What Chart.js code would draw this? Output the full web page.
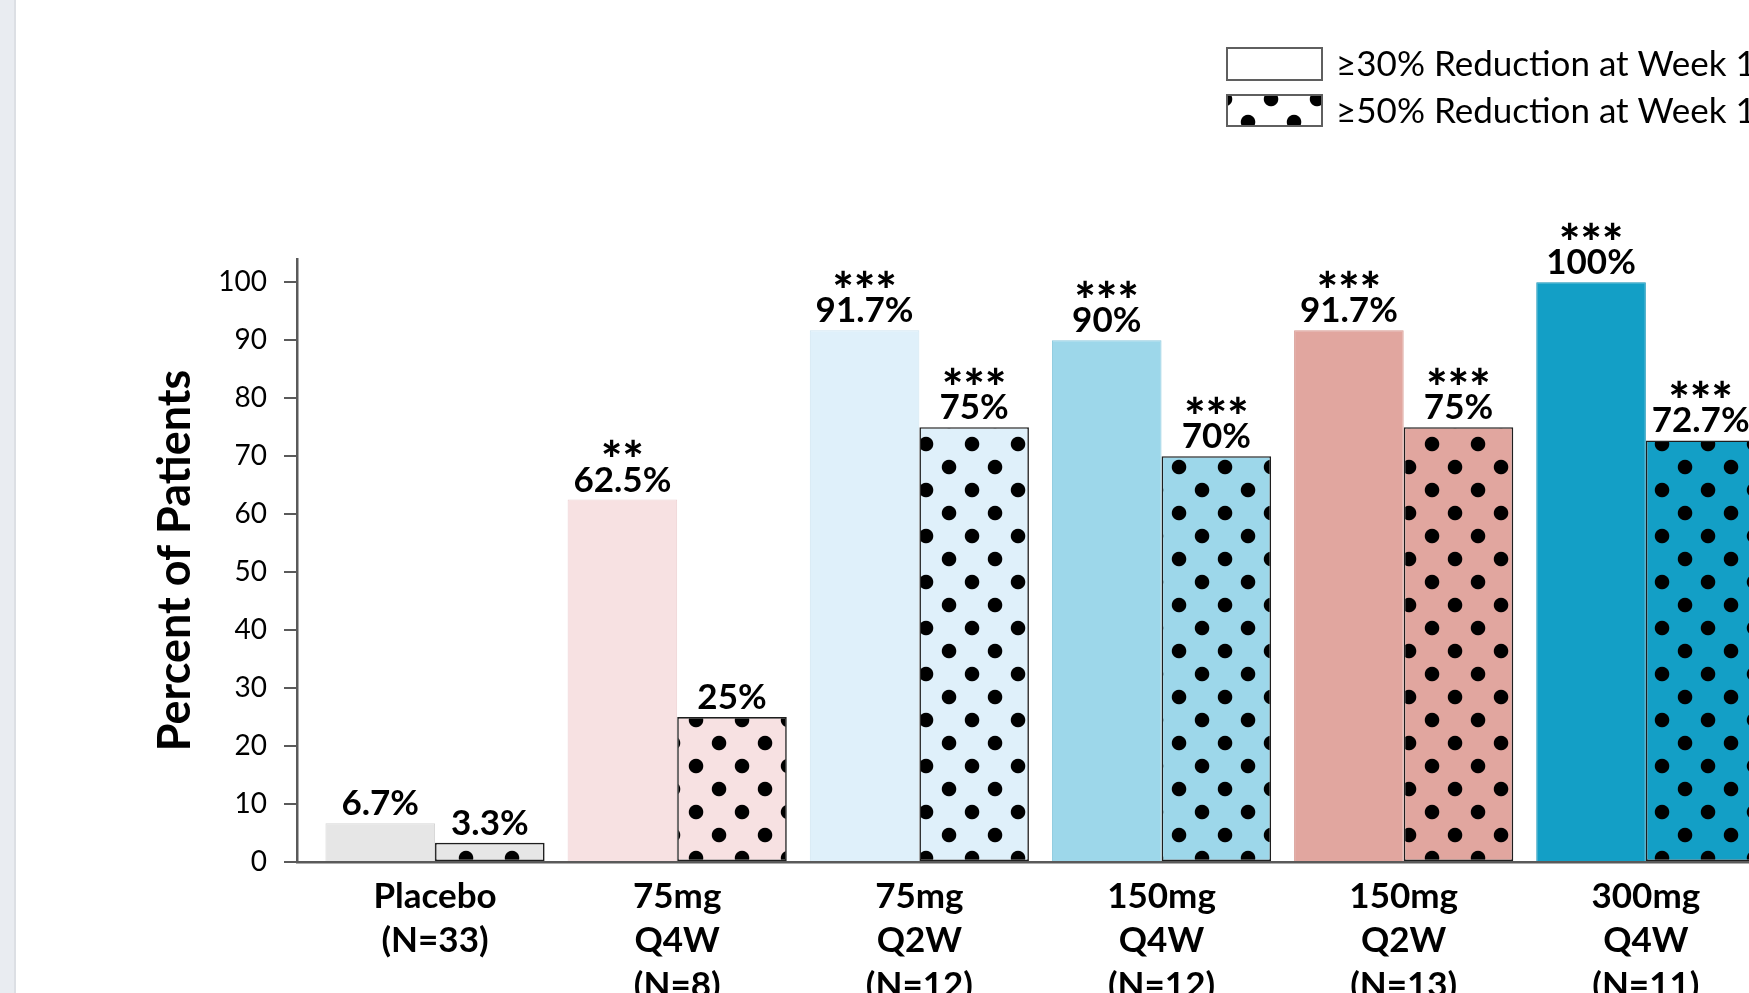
<!DOCTYPE html>
<html>
<head>
<meta charset="utf-8">
<script src="https://cdn.jsdelivr.net/npm/chart.js@4/dist/chart.umd.min.js"></script>
<style>
  html, body { margin: 0; padding: 0; background: #fff; overflow: hidden; width: 1749px; height: 993px; }
  #wrap { position: absolute; left: 0; top: 0; width: 1900px; height: 1040px; }
  #edge { position: absolute; left: 0; top: 0; width: 14px; height: 993px; background: #e9ecf1; border-right: 2px solid #dcdfe4; }
</style>
</head>
<body>
<div id="wrap"><canvas id="chart" width="1900" height="1040"></canvas></div>
<div id="edge"></div>
<script>
// Treatment groups (multi-line axis labels)
const categories = [
  ['Placebo', '(N=33)'],
  ['75mg', 'Q4W', '(N=8)'],
  ['75mg', 'Q2W', '(N=12)'],
  ['150mg', 'Q4W', '(N=12)'],
  ['150mg', 'Q2W', '(N=13)'],
  ['300mg', 'Q4W', '(N=11)']
];
const seriesNames = ['≥30% Reduction at Week 12', '≥50% Reduction at Week 12'];

// Percent of patients reaching each threshold
const reduction30 = [6.7, 62.5, 91.7, 90, 91.7, 100];
const reduction50 = [3.3, 25, 75, 70, 75, 72.7];

// Significance markers shown above each bar
const stars30 = ['', '**', '***', '***', '***', '***'];
const stars50 = ['', '', '***', '***', '***', '***'];

// Y axis ticks
const yTickValues = [0, 10, 20, 30, 40, 50, 60, 70, 80, 90, 100];

// Group colours
const groupFills = ['#e6e6e6', '#f7e1e2', '#dff0fa', '#9dd7ea', '#e1a69f', '#139fc6'];
const groupEdges = ['#d6d6d6', '#ecd0d1', '#cde3f0', '#8cc9dd', '#d69890', '#1192b6'];

const FONT = 'Lato, "Open Sans", sans-serif';

function build() {
  const canvas = document.getElementById('chart');
  const ctx = canvas.getContext('2d');

  // Polka-dot fill on a coloured ground, repeating every 46px on a diagonal lattice
  function dotPattern(bg) {
    const t = document.createElement('canvas');
    t.width = 92; t.height = 92;
    const g = t.getContext('2d');
    g.fillStyle = bg;
    g.fillRect(0, 0, 92, 92);
    g.fillStyle = '#000';
    [[0, 0], [92, 0], [0, 92], [92, 92], [46, 46]].forEach(([x, y]) => {
      g.beginPath(); g.arc(x, y, 14.5, 0, Math.PI * 2); g.fill();
    });
    const p = ctx.createPattern(t, 'repeat');
    p.setTransform(new DOMMatrix().translate(29, 7).scale(0.5));
    return p;
  }
  const groupPatterns = groupFills.map(dotPattern);
  const legendPattern = dotPattern('#ffffff');

  // Value and significance labels above the bars
  const valueLabels = {
    id: 'valueLabels',
    afterDatasetsDraw(chart) {
      const c = chart.ctx;
      c.save();
      c.fillStyle = '#000';
      c.textAlign = 'center';
      c.textBaseline = 'alphabetic';
      chart.data.datasets.forEach((ds, di) => {
        const meta = chart.getDatasetMeta(di);
        meta.data.forEach((bar, i) => {
          const v = ds.data[i].y;
          const base = bar.y - 8;
          c.font = 'bold 35px ' + FONT;
          c.fillText(v + '%', bar.x, base);
          const s = ds.stars[i];
          if (s) {
            c.font = '900 50px ' + FONT;
            const m = c.measureText('*');
            const cy = base - 43.5;
            const by = cy + (m.actualBoundingBoxAscent - m.actualBoundingBoxDescent) / 2;
            for (let k = 0; k < s.length; k++) {
              c.fillText('*', bar.x + (k - (s.length - 1) / 2) * 21.5, by);
            }
          }
        });
      });
      c.restore();
    }
  };

  // Two-row legend in the upper right
  const boxLegend = {
    id: 'boxLegend',
    afterDraw(chart) {
      const c = chart.ctx;
      const fills = ['#ffffff', legendPattern];
      const rows = [{ y: 48, h: 32 }, { y: 95, h: 31 }];
      c.save();
      chart.data.datasets.forEach((ds, i) => {
        const r = rows[i];
        c.fillStyle = fills[i];
        c.fillRect(1227, r.y, 95, r.h);
        c.strokeStyle = '#5f5f5f';
        c.lineWidth = 2;
        c.strokeRect(1227, r.y, 95, r.h);
        c.fillStyle = '#000';
        c.font = '35px ' + FONT;
        c.textAlign = 'left';
        c.textBaseline = 'middle';
        c.fillText(ds.label, 1336, r.y + r.h / 2 + 1);
      });
      c.restore();
    }
  };

  new Chart(ctx, {
    type: 'bar',
    data: {
      datasets: [
        {
          label: seriesNames[0],
          data: reduction30.map((v, i) => ({ x: i, y: v })),
          stars: stars30,
          backgroundColor: groupFills,
          borderColor: groupEdges,
          borderWidth: 1,
          borderSkipped: 'bottom',
          categoryPercentage: 0.905,
          barPercentage: 1
        },
        {
          label: seriesNames[1],
          data: reduction50.map((v, i) => ({ x: i, y: v })),
          stars: stars50,
          backgroundColor: groupPatterns,
          borderColor: '#1e1e1e',
          borderWidth: 1.6,
          borderSkipped: false,
          categoryPercentage: 0.905,
          barPercentage: 1
        }
      ]
    },
    options: {
      responsive: false,
      animation: false,
      devicePixelRatio: 1,
      layout: { padding: { top: 259, left: 0, right: 0, bottom: 0 } },
      plugins: { legend: { display: false }, tooltip: { enabled: false } },
      scales: {
        x: {
          type: 'linear',
          min: -0.57,
          max: 6.0,
          offset: false,
          grid: { display: false, drawTicks: false, offset: false },
          border: { display: true, color: '#5a5a5a', width: 2.5 },
          ticks: {
            stepSize: 1,
            includeBounds: false,
            autoSkip: false,
            maxRotation: 0,
            padding: 12,
            color: '#000',
            font: { family: FONT, size: 35, weight: 'bold', lineHeight: 1.275 },
            callback: (v) => (Number.isInteger(v) && categories[v]) ? categories[v] : ''
          },
          afterFit: (s) => { s.height = 1040 - 862; }
        },
        y: {
          min: 0,
          max: 104,
          afterBuildTicks: (s) => { s.ticks = yTickValues.map(v => ({ value: v })); },
          ticks: { padding: 17, color: '#000', font: { family: FONT, size: 28 } },
          grid: { drawOnChartArea: false, drawTicks: true, tickLength: 13, color: '#5a5a5a', lineWidth: 2 },
          border: { display: true, color: '#5a5a5a', width: 2.5 },
          title: {
            display: true,
            text: 'Percent of Patients',
            color: '#000',
            font: { family: FONT, size: 45, weight: 'bold' },
            padding: { top: 148, bottom: 0 }
          },
          afterFit: (s) => { s.width = 297; }
        }
      }
    },
    plugins: [valueLabels, boxLegend]
  });
}

Promise.all([
  document.fonts.load('bold 35px Lato'),
  document.fonts.load('35px Lato'),
  document.fonts.load('900 50px Lato')
]).then(build, build);
</script>
</body>
</html>
